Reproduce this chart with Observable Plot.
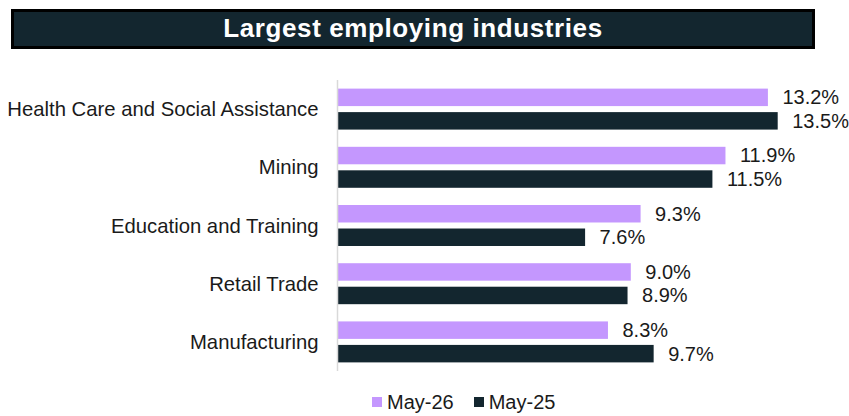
<!DOCTYPE html>
<html>
<head>
<meta charset="utf-8">
<script src="https://cdn.jsdelivr.net/npm/d3@7"></script>
<script src="https://cdn.jsdelivr.net/npm/@observablehq/plot@0.6"></script>
<style>
  html, body { margin: 0; padding: 0; background: #ffffff; }
  body { width: 849px; height: 416px; position: relative; overflow: hidden;
         font-family: Arial, "Liberation Sans", sans-serif; }
  #title { position: absolute; left: 11px; top: 9px; width: 804px; height: 40px;
           box-sizing: border-box; border: 3px solid #000; background: #13262f;
           color: #ffffff; font-weight: bold; font-size: 26px; letter-spacing: 0.6px;
           text-align: center; line-height: 33px; }
  #chart { position: absolute; left: 0; top: 60px; }
  #legend { position: absolute; left: 372px; top: 390px; height: 24px;
            display: flex; align-items: center; font-size: 20px; color: #1a1a1a; }
  #legend .sw { width: 10px; height: 10.5px; display: inline-block; margin-right: 5px; }
  #legend .item { display: flex; align-items: center; margin-right: 20px; }
</style>
</head>
<body>
<div id="title">Largest employing industries</div>
<div id="chart"></div>
<div id="legend"></div>
<script>
// ---- data ----
const industries = ["Health Care and Social Assistance", "Mining", "Education and Training", "Retail Trade", "Manufacturing"];
const series = ["May-26", "May-25"];
const may26 = [13.2, 11.9, 9.3, 9.0, 8.3];
const may25 = [13.5, 11.5, 7.6, 8.9, 9.7];
const colors = ["#c497fe", "#13262f"];

const rows26 = industries.map((d, i) => ({industry: d, value: may26[i], series: series[0]}));
const rows25 = industries.map((d, i) => ({industry: d, value: may25[i], series: series[1]}));
const fmt = d => d.value.toFixed(1) + "%";

const chart = Plot.plot({
  width: 849,
  height: 320,
  marginLeft: 337,
  marginRight: 71.3,
  marginTop: 20,
  marginBottom: 9,
  style: {fontFamily: 'Arial, "Liberation Sans", sans-serif', color: "#1a1a1a", background: "transparent"},
  x: {domain: [0, 13.5], axis: null},
  y: {domain: industries, paddingInner: 0.296, paddingOuter: 0.148, round: false, label: null,
      tickSize: 0, tickPadding: 19},
  marks: [
    Plot.barX(rows26, {x: "value", y: "industry", fill: colors[0], insetBottom: 23.5}),
    Plot.barX(rows25, {x: "value", y: "industry", fill: colors[1], insetTop: 23.5}),
    Plot.ruleX([0], {stroke: "#d9d9d9", strokeWidth: 1.5}),
    Plot.text(rows26, {x: "value", y: "industry", text: fmt, dx: 14, dy: -11.8, textAnchor: "start",
                       fontSize: 20, fill: "#1a1a1a"}),
    Plot.text(rows25, {x: "value", y: "industry", text: fmt, dx: 14, dy: 11.8, textAnchor: "start",
                       fontSize: 20, fill: "#1a1a1a"}),
    Plot.axisY({tickSize: 0, tickPadding: 19, fontSize: 20.3, label: null})
  ]
});
document.getElementById("chart").appendChild(chart);

const legend = document.getElementById("legend");
series.forEach((s, i) => {
  const item = document.createElement("span");
  item.className = "item";
  const sw = document.createElement("span");
  sw.className = "sw";
  sw.style.background = colors[i];
  item.appendChild(sw);
  item.appendChild(document.createTextNode(s));
  legend.appendChild(item);
});
</script>
</body>
</html>
